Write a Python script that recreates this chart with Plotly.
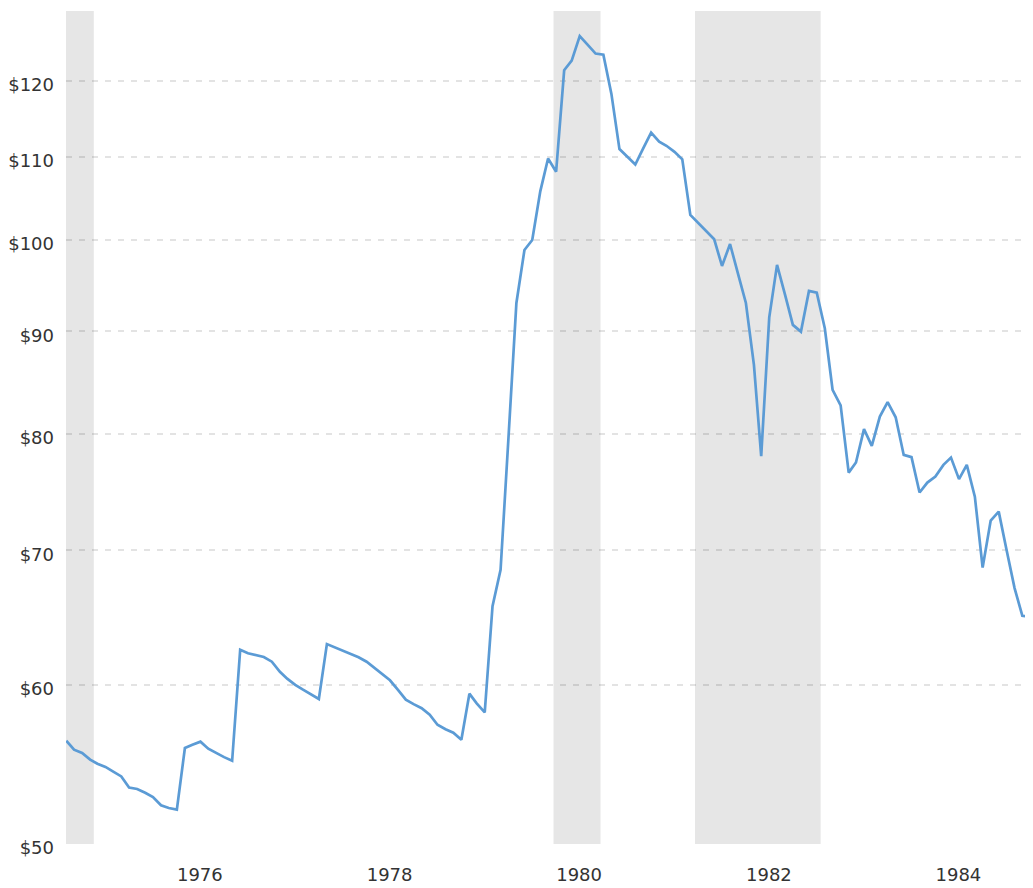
import math
import pandas as pd
import plotly.graph_objects as go

# Monthly values (USD), starting November 1974
start_month = "1974-11-01"
prices = [
    56.27, 55.69, 55.48, 55.06, 54.80, 54.60, 54.31, 54.01, 53.33, 53.24,
    53.01, 52.75, 52.25, 52.09, 51.99, 55.80, 56.01, 56.21, 55.76, 55.47,
    55.22, 54.99, 62.46, 62.21, 62.10, 61.94, 61.61, 60.90, 60.42, 60.00,
    59.66, 59.35, 59.03, 62.87, 62.64, 62.39, 62.14, 61.92, 61.61, 61.18,
    60.76, 60.31, 59.66, 58.98, 58.68, 58.41, 57.97, 57.31, 57.02, 56.79,
    56.33, 59.39, 58.74, 58.13, 65.66, 68.46, 79.47, 92.99, 98.82, 99.96,
    105.7, 109.75, 108.1, 121.45, 122.8, 126.3, 125.08, 123.8, 123.65, 118.2,
    110.95, 110.0, 109.0, 111.0, 113.06, 111.9, 111.37, 110.6, 109.65, 102.87,
    101.9, 101.0, 100.04, 97.02, 99.5, 96.22, 92.99, 86.61, 78.0, 91.46,
    97.14, 93.85, 90.68, 89.98, 94.28, 94.1, 90.33, 84.16, 82.68, 76.54,
    77.43, 80.45, 78.92, 81.62, 82.98, 81.56, 78.11, 77.91, 74.81, 75.67,
    76.19, 77.22, 77.87, 75.97, 77.22, 74.46, 68.64, 72.44, 73.19, 70.05,
    67.04, 64.94, 64.85,
]
dates = pd.date_range(start_month, periods=len(prices), freq="MS")

# Recession periods (shaded)
recession_starts = ["1973-11-01", "1979-12-22", "1981-06-19"]
recession_ends = ["1975-02-15", "1980-06-20", "1982-10-16"]

# Axis ticks
y_ticks = [50, 60, 70, 80, 90, 100, 110, 120]
y_ticktext = ["$50", "$60", "$70", "$80", "$90", "$100", "$110", "$120"]
x_tick_years = [1976, 1978, 1980, 1982, 1984]

fig = go.Figure()
fig.add_trace(go.Scatter(
    x=dates, y=prices, mode="lines",
    line=dict(color="#5b9bd5", width=2.7),
    hoverinfo="x+y",
))

for s, e in zip(recession_starts, recession_ends):
    fig.add_shape(type="rect", xref="x", yref="paper", x0=s, x1=e, y0=0, y1=1,
                  fillcolor="#e6e6e6", line=dict(width=0), layer="below")

fig.update_layout(
    width=1025, height=880,
    margin=dict(l=58, r=0, t=3, b=44),
    paper_bgcolor="white", plot_bgcolor="white",
    showlegend=False,
    font=dict(family="DejaVu Sans", size=18, color="#333333"),
)
fig.update_xaxes(
    range=["1974-10-31", "1985-01-11"],
    tickvals=[f"{y}-01-01" for y in x_tick_years],
    ticktext=[str(y) for y in x_tick_years],
    showgrid=False, zeroline=False, showline=False, ticks="",
    ticklabelshift=23, ticklabelstandoff=18,
)
fig.update_yaxes(
    type="log",
    range=[math.log10(49.98), math.log10(130)],
    tickvals=y_ticks, ticktext=y_ticktext,
    showgrid=True, gridcolor="rgba(0,0,0,0.11)", gridwidth=2, griddash="6px,7px",
    zeroline=False, showline=False, ticks="",
    ticklabelstandoff=11, ticklabelshift=4,
)

fig.write_html("out.html")
